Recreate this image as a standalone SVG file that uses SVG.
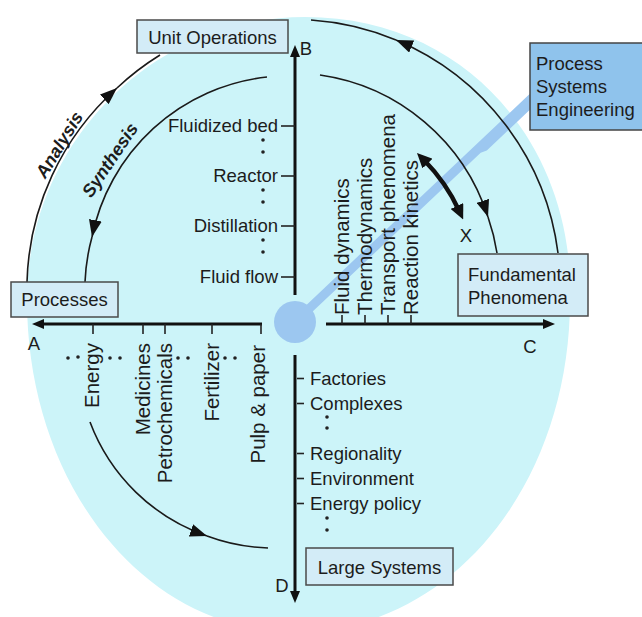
<svg xmlns="http://www.w3.org/2000/svg" width="642" height="617" viewBox="0 0 642 617">
<defs>
<style>
text{font-family:"Liberation Sans",Arial,"Noto Sans",sans-serif;fill:#1c1c1c;font-size:18.5px}
.v{font-size:20.5px}
.ital{font-weight:bold;font-style:italic;font-size:18px}
.box{fill:#d3ecf7;stroke:#4a4a4a;stroke-width:1.5}
.pse{fill:#8fc3ec;stroke:#444;stroke-width:1.5}
.arc{fill:none;stroke:#1a1a1a;stroke-width:1.6}
.axis{fill:none;stroke:#111;stroke-width:3}
.tick{stroke:#222;stroke-width:1.6}
.dot{fill:#222}
.mid{text-anchor:middle}
.end{text-anchor:end}
</style>
<marker id="arcHead" viewBox="0 0 17 13" refX="17" refY="6.5" markerWidth="17" markerHeight="13" markerUnits="userSpaceOnUse" orient="auto"><path d="M0,0 L17,6.5 L0,13 z" fill="#111"/></marker>
<marker id="axisHead" viewBox="0 0 12 10" refX="3" refY="5" markerWidth="12" markerHeight="10" markerUnits="userSpaceOnUse" orient="auto"><path d="M0,0 L12,5 L0,10 z" fill="#111"/></marker>
<marker id="thickHead" viewBox="0 0 15 14" refX="5" refY="7" markerWidth="15" markerHeight="14" markerUnits="userSpaceOnUse" orient="auto-start-reverse"><path d="M0,0 L15,7 L0,14 z" fill="#111"/></marker>
</defs>

<path id="background" d="M305,17 C470,17 575,150 570,300 C570,483 452,632 295,632 C143,632 27,483 27,300 C27,144 152,17 305,17 Z" fill="#ccf4f9"/>

<g id="pse-link">
<polygon points="291.9,318.7 539.1,85.1 547.0,93.5 486.8,150.5 480.7,152.8 298.1,325.3" fill="#9cc7f0"/>
<circle cx="295" cy="322" r="21" fill="#9cc7f0"/>
</g>

<g id="connectors">
<path class="arc" d="M27,282 A270,270 0 0 1 117,88" marker-end="url(#arcHead)"/>
<path class="arc" d="M117,88 A270,270 0 0 1 160,55"/>
<path class="arc" d="M558,253 A268,268 0 0 0 396,40" marker-end="url(#arcHead)"/>
<path class="arc" d="M396,40 A268,268 0 0 0 311,20"/>
<path class="arc" d="M267,77 A201,201 0 0 0 92,237" marker-end="url(#arcHead)"/>
<path class="arc" d="M92,237 A201,201 0 0 0 85,282"/>
<path class="arc" d="M320,75 A207,207 0 0 1 488,217" marker-end="url(#arcHead)"/>
<path class="arc" d="M488,217 A207,207 0 0 1 497,253"/>
<path class="arc" d="M90,422 A192,192 0 0 0 207,536" marker-end="url(#arcHead)"/>
<path class="arc" d="M207,536 A192,192 0 0 0 268,548"/>
<path d="M424,160 A179,179 0 0 1 459,210.5" fill="none" stroke="#111" stroke-width="4.5" marker-start="url(#thickHead)" marker-end="url(#thickHead)"/>
<line class="axis" x1="295" y1="295" x2="295" y2="54" marker-end="url(#axisHead)"/>
<line class="axis" x1="262" y1="324" x2="41" y2="324" marker-end="url(#axisHead)"/>
<line class="axis" x1="326" y1="324" x2="546" y2="324" marker-end="url(#axisHead)"/>
<line class="axis" x1="295" y1="355" x2="295" y2="594" marker-end="url(#axisHead)"/>
</g>

<g id="ticks">
<line class="tick" x1="281" y1="126" x2="295" y2="126"/>
<line class="tick" x1="281" y1="176" x2="295" y2="176"/>
<line class="tick" x1="281" y1="226" x2="295" y2="226"/>
<line class="tick" x1="281" y1="277" x2="295" y2="277"/>
<line class="tick" x1="93" y1="324" x2="93" y2="334"/>
<line class="tick" x1="143" y1="324" x2="143" y2="334"/>
<line class="tick" x1="165" y1="324" x2="165" y2="334"/>
<line class="tick" x1="212" y1="324" x2="212" y2="334"/>
<line class="tick" x1="261" y1="324" x2="261" y2="334"/>
<line class="tick" x1="342" y1="324" x2="342" y2="315"/>
<line class="tick" x1="365" y1="324" x2="365" y2="315"/>
<line class="tick" x1="388" y1="324" x2="388" y2="315"/>
<line class="tick" x1="411" y1="324" x2="411" y2="315"/>
<line class="tick" x1="297" y1="378.5" x2="304" y2="378.5"/>
<line class="tick" x1="297" y1="403.5" x2="304" y2="403.5"/>
<line class="tick" x1="297" y1="453.5" x2="304" y2="453.5"/>
<line class="tick" x1="297" y1="478.5" x2="304" y2="478.5"/>
<line class="tick" x1="297" y1="503.5" x2="304" y2="503.5"/>
</g>

<g id="dots">
<circle class="dot" cx="263" cy="140" r="1.8"/><circle class="dot" cx="263" cy="152" r="1.8"/>
<circle class="dot" cx="263" cy="190" r="1.8"/><circle class="dot" cx="263" cy="202" r="1.8"/>
<circle class="dot" cx="263" cy="240" r="1.8"/><circle class="dot" cx="263" cy="252" r="1.8"/>
<circle class="dot" cx="68" cy="358" r="1.8"/><circle class="dot" cx="78" cy="357" r="1.8"/>
<circle class="dot" cx="110" cy="358" r="1.8"/><circle class="dot" cx="120" cy="358" r="1.8"/>
<circle class="dot" cx="178" cy="358" r="1.8"/><circle class="dot" cx="188" cy="358" r="1.8"/>
<circle class="dot" cx="225" cy="358" r="1.8"/><circle class="dot" cx="235" cy="358" r="1.8"/>
<circle class="dot" cx="327" cy="417" r="1.8"/><circle class="dot" cx="327" cy="428" r="1.8"/>
<circle class="dot" cx="327" cy="518" r="1.8"/><circle class="dot" cx="327" cy="530" r="1.8"/>
</g>

<g id="labels">
<text class="end" x="278" y="132">Fluidized bed</text>
<text class="end" x="278" y="182">Reactor</text>
<text class="end" x="278" y="232">Distillation</text>
<text class="end" x="278" y="283">Fluid flow</text>
<text x="310" y="385">Factories</text>
<text x="310" y="410">Complexes</text>
<text x="310" y="460">Regionality</text>
<text x="310" y="485">Environment</text>
<text x="310" y="510">Energy policy</text>
<text class="v end" x="99" y="343" transform="rotate(-90 99 343)">Energy</text>
<text class="v end" x="150" y="343" transform="rotate(-90 150 343)">Medicines</text>
<text class="v end" x="172" y="343" transform="rotate(-90 172 343)">Petrochemicals</text>
<text class="v end" x="219" y="343" transform="rotate(-90 219 343)">Fertilizer</text>
<text class="v end" x="265" y="345" transform="rotate(-90 265 345)">Pulp &amp; paper</text>
<text class="v" x="349" y="315" transform="rotate(-90 349 315)">Fluid dynamics</text>
<text class="v" x="372" y="315" transform="rotate(-90 372 315)">Thermodynamics</text>
<text class="v" x="395" y="315" transform="rotate(-90 395 315)">Transport phenomena</text>
<text class="v" x="418" y="315" transform="rotate(-90 418 315)">Reaction kinetics</text>
<text class="mid" x="34" y="350">A</text>
<text class="mid" x="306" y="55">B</text>
<text class="mid" x="530" y="353">C</text>
<text class="mid" x="282" y="592">D</text>
<text class="mid" x="466" y="242">X</text>
<text class="ital mid" x="64.5" y="148" transform="rotate(-58.5 64.5 148)">Analysis</text>
<text class="ital mid" x="115" y="163.5" transform="rotate(-56 115 163.5)">Synthesis</text>
</g>

<g id="unit-operations">
<rect class="box" x="137" y="20" width="151" height="33"/>
<text class="mid" x="212.5" y="44">Unit Operations</text>
</g>
<g id="processes">
<rect class="box" x="11" y="282" width="107" height="35"/>
<text class="mid" x="64.5" y="306">Processes</text>
</g>
<g id="fundamental-phenomena">
<rect class="box" x="458" y="254" width="130" height="62"/>
<text x="468" y="281">Fundamental</text>
<text x="468" y="304">Phenomena</text>
</g>
<g id="large-systems">
<rect class="box" x="306" y="548" width="147" height="37"/>
<text class="mid" x="379.5" y="574">Large Systems</text>
</g>
<g id="process-systems-engineering">
<rect class="pse" x="530" y="43" width="116" height="87"/>
<text x="536" y="70">Process</text>
<text x="536" y="93">Systems</text>
<text x="536" y="116">Engineering</text>
</g>
</svg>
